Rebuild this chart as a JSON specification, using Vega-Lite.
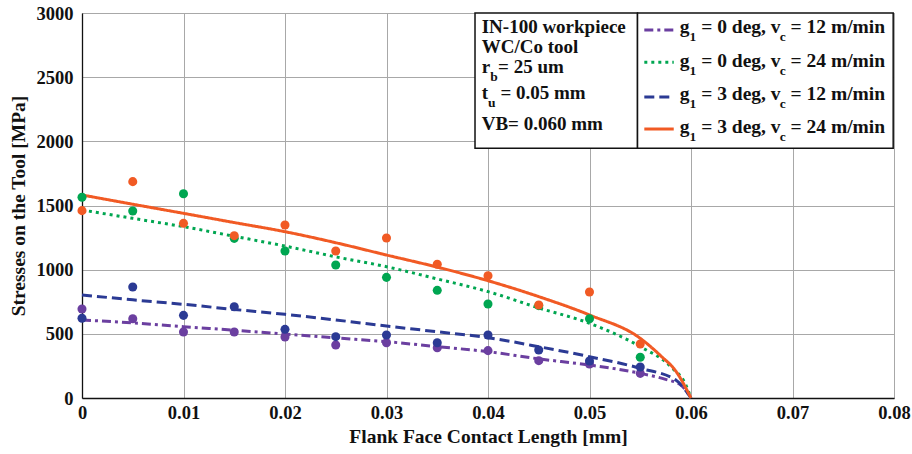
{
  "$schema": "https://vega.github.io/schema/vega-lite/v6.json",
  "width": 812,
  "height": 385,
  "autosize": {"type": "none"},
  "padding": {"left": 82, "top": 13, "right": 18, "bottom": 56},
  "background": "white",
  "config": {
    "view": {"stroke": "#9a9a9a", "strokeWidth": 1},
    "axis": {
      "labelFont": "Liberation Serif",
      "labelFontWeight": "bold",
      "labelFontSize": 18.5,
      "labelColor": "#111111",
      "labelFlush": false,
      "labelOverlap": false,
      "titleFont": "Liberation Serif",
      "titleFontWeight": "bold",
      "titleFontSize": 19.5,
      "titleColor": "#111111",
      "gridColor": "#a8a8a8",
      "gridWidth": 1,
      "domainColor": "#111111",
      "domainWidth": 1.3,
      "ticks": false
    },
    "text": {
      "font": "Liberation Serif",
      "fontWeight": "bold",
      "fontSize": 19,
      "align": "left",
      "baseline": "alphabetic",
      "color": "#111111"
    }
  },
  "datasets": {
    "model": [
      {"case": "g1 = 0 deg, vc = 12 m/min", "length": 0, "stress": 608},
      {"case": "g1 = 0 deg, vc = 12 m/min", "length": 0.005, "stress": 585},
      {"case": "g1 = 0 deg, vc = 12 m/min", "length": 0.01, "stress": 556},
      {"case": "g1 = 0 deg, vc = 12 m/min", "length": 0.015, "stress": 528},
      {"case": "g1 = 0 deg, vc = 12 m/min", "length": 0.02, "stress": 499},
      {"case": "g1 = 0 deg, vc = 12 m/min", "length": 0.025, "stress": 468},
      {"case": "g1 = 0 deg, vc = 12 m/min", "length": 0.03, "stress": 439},
      {"case": "g1 = 0 deg, vc = 12 m/min", "length": 0.035, "stress": 400},
      {"case": "g1 = 0 deg, vc = 12 m/min", "length": 0.04, "stress": 361},
      {"case": "g1 = 0 deg, vc = 12 m/min", "length": 0.045, "stress": 305},
      {"case": "g1 = 0 deg, vc = 12 m/min", "length": 0.05, "stress": 257},
      {"case": "g1 = 0 deg, vc = 12 m/min", "length": 0.055, "stress": 192},
      {"case": "g1 = 0 deg, vc = 12 m/min", "length": 0.0575, "stress": 145},
      {"case": "g1 = 0 deg, vc = 12 m/min", "length": 0.059, "stress": 101},
      {"case": "g1 = 0 deg, vc = 12 m/min", "length": 0.06, "stress": 0},
      {"case": "g1 = 0 deg, vc = 24 m/min", "length": 0, "stress": 1465},
      {"case": "g1 = 0 deg, vc = 24 m/min", "length": 0.005, "stress": 1400},
      {"case": "g1 = 0 deg, vc = 24 m/min", "length": 0.01, "stress": 1335},
      {"case": "g1 = 0 deg, vc = 24 m/min", "length": 0.015, "stress": 1260},
      {"case": "g1 = 0 deg, vc = 24 m/min", "length": 0.02, "stress": 1184},
      {"case": "g1 = 0 deg, vc = 24 m/min", "length": 0.025, "stress": 1100},
      {"case": "g1 = 0 deg, vc = 24 m/min", "length": 0.03, "stress": 1023},
      {"case": "g1 = 0 deg, vc = 24 m/min", "length": 0.035, "stress": 928},
      {"case": "g1 = 0 deg, vc = 24 m/min", "length": 0.04, "stress": 829},
      {"case": "g1 = 0 deg, vc = 24 m/min", "length": 0.045, "stress": 702},
      {"case": "g1 = 0 deg, vc = 24 m/min", "length": 0.05, "stress": 582},
      {"case": "g1 = 0 deg, vc = 24 m/min", "length": 0.055, "stress": 400},
      {"case": "g1 = 0 deg, vc = 24 m/min", "length": 0.058, "stress": 244},
      {"case": "g1 = 0 deg, vc = 24 m/min", "length": 0.0595, "stress": 100},
      {"case": "g1 = 0 deg, vc = 24 m/min", "length": 0.06, "stress": 0},
      {"case": "g1 = 3 deg, vc = 12 m/min", "length": 0, "stress": 803},
      {"case": "g1 = 3 deg, vc = 12 m/min", "length": 0.005, "stress": 765},
      {"case": "g1 = 3 deg, vc = 12 m/min", "length": 0.01, "stress": 730},
      {"case": "g1 = 3 deg, vc = 12 m/min", "length": 0.015, "stress": 690},
      {"case": "g1 = 3 deg, vc = 12 m/min", "length": 0.02, "stress": 652},
      {"case": "g1 = 3 deg, vc = 12 m/min", "length": 0.025, "stress": 608},
      {"case": "g1 = 3 deg, vc = 12 m/min", "length": 0.03, "stress": 561},
      {"case": "g1 = 3 deg, vc = 12 m/min", "length": 0.035, "stress": 516},
      {"case": "g1 = 3 deg, vc = 12 m/min", "length": 0.04, "stress": 470},
      {"case": "g1 = 3 deg, vc = 12 m/min", "length": 0.045, "stress": 400},
      {"case": "g1 = 3 deg, vc = 12 m/min", "length": 0.05, "stress": 322},
      {"case": "g1 = 3 deg, vc = 12 m/min", "length": 0.055, "stress": 231},
      {"case": "g1 = 3 deg, vc = 12 m/min", "length": 0.0585, "stress": 140},
      {"case": "g1 = 3 deg, vc = 12 m/min", "length": 0.06, "stress": 0},
      {"case": "g1 = 3 deg, vc = 24 m/min", "length": 0, "stress": 1582},
      {"case": "g1 = 3 deg, vc = 24 m/min", "length": 0.005, "stress": 1510},
      {"case": "g1 = 3 deg, vc = 24 m/min", "length": 0.01, "stress": 1439},
      {"case": "g1 = 3 deg, vc = 24 m/min", "length": 0.015, "stress": 1367},
      {"case": "g1 = 3 deg, vc = 24 m/min", "length": 0.02, "stress": 1296},
      {"case": "g1 = 3 deg, vc = 24 m/min", "length": 0.025, "stress": 1210},
      {"case": "g1 = 3 deg, vc = 24 m/min", "length": 0.03, "stress": 1114},
      {"case": "g1 = 3 deg, vc = 24 m/min", "length": 0.035, "stress": 1020},
      {"case": "g1 = 3 deg, vc = 24 m/min", "length": 0.04, "stress": 914},
      {"case": "g1 = 3 deg, vc = 24 m/min", "length": 0.045, "stress": 790},
      {"case": "g1 = 3 deg, vc = 24 m/min", "length": 0.05, "stress": 647},
      {"case": "g1 = 3 deg, vc = 24 m/min", "length": 0.055, "stress": 465},
      {"case": "g1 = 3 deg, vc = 24 m/min", "length": 0.057, "stress": 330},
      {"case": "g1 = 3 deg, vc = 24 m/min", "length": 0.0585, "stress": 210},
      {"case": "g1 = 3 deg, vc = 24 m/min", "length": 0.06, "stress": 0}
    ],
    "measured": [
      {"case": "g1 = 0 deg, vc = 12 m/min", "length": 0, "stress": 693},
      {"case": "g1 = 0 deg, vc = 12 m/min", "length": 0.005, "stress": 618},
      {"case": "g1 = 0 deg, vc = 12 m/min", "length": 0.01, "stress": 514},
      {"case": "g1 = 0 deg, vc = 12 m/min", "length": 0.015, "stress": 514},
      {"case": "g1 = 0 deg, vc = 12 m/min", "length": 0.02, "stress": 475},
      {"case": "g1 = 0 deg, vc = 12 m/min", "length": 0.025, "stress": 413},
      {"case": "g1 = 0 deg, vc = 12 m/min", "length": 0.03, "stress": 431},
      {"case": "g1 = 0 deg, vc = 12 m/min", "length": 0.035, "stress": 392},
      {"case": "g1 = 0 deg, vc = 12 m/min", "length": 0.04, "stress": 369},
      {"case": "g1 = 0 deg, vc = 12 m/min", "length": 0.045, "stress": 291},
      {"case": "g1 = 0 deg, vc = 12 m/min", "length": 0.05, "stress": 265},
      {"case": "g1 = 0 deg, vc = 12 m/min", "length": 0.055, "stress": 192},
      {"case": "g1 = 3 deg, vc = 12 m/min", "length": 0, "stress": 621},
      {"case": "g1 = 3 deg, vc = 12 m/min", "length": 0.005, "stress": 865},
      {"case": "g1 = 3 deg, vc = 12 m/min", "length": 0.01, "stress": 644},
      {"case": "g1 = 3 deg, vc = 12 m/min", "length": 0.015, "stress": 711},
      {"case": "g1 = 3 deg, vc = 12 m/min", "length": 0.02, "stress": 535},
      {"case": "g1 = 3 deg, vc = 12 m/min", "length": 0.025, "stress": 478},
      {"case": "g1 = 3 deg, vc = 12 m/min", "length": 0.03, "stress": 491},
      {"case": "g1 = 3 deg, vc = 12 m/min", "length": 0.035, "stress": 431},
      {"case": "g1 = 3 deg, vc = 12 m/min", "length": 0.04, "stress": 491},
      {"case": "g1 = 3 deg, vc = 12 m/min", "length": 0.045, "stress": 374},
      {"case": "g1 = 3 deg, vc = 12 m/min", "length": 0.05, "stress": 288},
      {"case": "g1 = 3 deg, vc = 12 m/min", "length": 0.055, "stress": 242},
      {"case": "g1 = 0 deg, vc = 24 m/min", "length": 0, "stress": 1564},
      {"case": "g1 = 0 deg, vc = 24 m/min", "length": 0.005, "stress": 1457},
      {"case": "g1 = 0 deg, vc = 24 m/min", "length": 0.01, "stress": 1592},
      {"case": "g1 = 0 deg, vc = 24 m/min", "length": 0.015, "stress": 1244},
      {"case": "g1 = 0 deg, vc = 24 m/min", "length": 0.02, "stress": 1146},
      {"case": "g1 = 0 deg, vc = 24 m/min", "length": 0.025, "stress": 1036},
      {"case": "g1 = 0 deg, vc = 24 m/min", "length": 0.03, "stress": 940},
      {"case": "g1 = 0 deg, vc = 24 m/min", "length": 0.035, "stress": 839},
      {"case": "g1 = 0 deg, vc = 24 m/min", "length": 0.04, "stress": 732},
      {"case": "g1 = 0 deg, vc = 24 m/min", "length": 0.045, "stress": 720},
      {"case": "g1 = 0 deg, vc = 24 m/min", "length": 0.05, "stress": 618},
      {"case": "g1 = 0 deg, vc = 24 m/min", "length": 0.055, "stress": 317},
      {"case": "g1 = 3 deg, vc = 24 m/min", "length": 0, "stress": 1460},
      {"case": "g1 = 3 deg, vc = 24 m/min", "length": 0.005, "stress": 1686},
      {"case": "g1 = 3 deg, vc = 24 m/min", "length": 0.01, "stress": 1361},
      {"case": "g1 = 3 deg, vc = 24 m/min", "length": 0.015, "stress": 1265},
      {"case": "g1 = 3 deg, vc = 24 m/min", "length": 0.02, "stress": 1348},
      {"case": "g1 = 3 deg, vc = 24 m/min", "length": 0.025, "stress": 1146},
      {"case": "g1 = 3 deg, vc = 24 m/min", "length": 0.03, "stress": 1247},
      {"case": "g1 = 3 deg, vc = 24 m/min", "length": 0.035, "stress": 1042},
      {"case": "g1 = 3 deg, vc = 24 m/min", "length": 0.04, "stress": 953},
      {"case": "g1 = 3 deg, vc = 24 m/min", "length": 0.045, "stress": 725},
      {"case": "g1 = 3 deg, vc = 24 m/min", "length": 0.05, "stress": 826},
      {"case": "g1 = 3 deg, vc = 24 m/min", "length": 0.055, "stress": 421}
    ]
  },
  "encoding": {
    "x": {
      "type": "quantitative",
      "scale": {"domain": [0, 0.08], "nice": false, "zero": false},
      "axis": {
        "title": "Flank Face Contact Length [mm]",
        "values": [0, 0.01, 0.02, 0.03, 0.04, 0.05, 0.06, 0.07, 0.08],
        "format": ".2~f",
        "labelPadding": 5,
        "titlePadding": 6,
        "grid": true
      }
    },
    "y": {
      "type": "quantitative",
      "scale": {"domain": [0, 3000], "nice": false},
      "axis": {
        "title": "Stresses on the Tool [MPa]",
        "values": [0, 500, 1000, 1500, 2000, 2500, 3000],
        "format": "d",
        "labelPadding": 9,
        "titlePadding": 8,
        "grid": true
      }
    }
  },
  "layer": [
    {
      "data": {"name": "model"},
      "mark": {"type": "line", "strokeWidth": 3, "interpolate": "monotone"},
      "encoding": {
        "x": {"field": "length", "type": "quantitative"},
        "y": {"field": "stress", "type": "quantitative"},
        "order": {"field": "length"},
        "color": {
          "field": "case",
          "type": "nominal",
          "legend": null,
          "scale": {
            "domain": ["g1 = 0 deg, vc = 12 m/min", "g1 = 0 deg, vc = 24 m/min", "g1 = 3 deg, vc = 12 m/min", "g1 = 3 deg, vc = 24 m/min"],
            "range": ["#6b3fa0", "#00a651", "#2b3a94", "#f15a24"]
          }
        },
        "strokeDash": {
          "field": "case",
          "type": "nominal",
          "legend": null,
          "scale": {
            "domain": ["g1 = 0 deg, vc = 12 m/min", "g1 = 0 deg, vc = 24 m/min", "g1 = 3 deg, vc = 12 m/min", "g1 = 3 deg, vc = 24 m/min"],
            "range": [[9, 4, 3, 4], [3, 4], [10, 5], [1, 0]]
          }
        }
      }
    },
    {
      "data": {"name": "measured"},
      "mark": {"type": "circle", "size": 82, "opacity": 1},
      "encoding": {
        "x": {"field": "length", "type": "quantitative"},
        "y": {"field": "stress", "type": "quantitative"},
        "color": {"field": "case", "type": "nominal", "legend": null}
      }
    },
    {
      "data": {"values": [{}]},
      "mark": {"type": "rect", "fill": "white", "stroke": "#111111", "strokeWidth": 1.5},
      "encoding": {"x": {"datum": 0.03872}, "x2": {"datum": 0.05473}, "y": {"datum": 3000}, "y2": {"datum": 1946}}
    },
    {
      "data": {"values": [{}]},
      "mark": {"type": "rect", "fill": "white", "stroke": "#111111", "strokeWidth": 1.5},
      "encoding": {"x": {"datum": 0.05473}, "x2": {"datum": 0.07992}, "y": {"datum": 3000}, "y2": {"datum": 1946}}
    },
    {"data": {"values": [{}]}, "mark": {"type": "text", "text": "IN-100 workpiece"}, "encoding": {"x": {"datum": 0.03938}, "y": {"datum": 2845}}},
    {"data": {"values": [{}]}, "mark": {"type": "text", "text": "WC/Co tool"}, "encoding": {"x": {"datum": 0.03938}, "y": {"datum": 2686}}},
    {"data": {"values": [{}]}, "mark": {"type": "text", "text": "r"}, "encoding": {"x": {"datum": 0.03938}, "y": {"datum": 2530}}},
    {"data": {"values": [{}]}, "mark": {"type": "text", "text": "b", "fontSize": 13.5, "dx": 8.5, "dy": 8}, "encoding": {"x": {"datum": 0.03938}, "y": {"datum": 2530}}},
    {"data": {"values": [{}]}, "mark": {"type": "text", "text": "= 25 um", "dx": 16.4}, "encoding": {"x": {"datum": 0.03938}, "y": {"datum": 2530}}},
    {"data": {"values": [{}]}, "mark": {"type": "text", "text": "t"}, "encoding": {"x": {"datum": 0.03938}, "y": {"datum": 2327}}},
    {"data": {"values": [{}]}, "mark": {"type": "text", "text": "u", "fontSize": 13.5, "dx": 6.4, "dy": 8}, "encoding": {"x": {"datum": 0.03938}, "y": {"datum": 2327}}},
    {"data": {"values": [{}]}, "mark": {"type": "text", "text": "= 0.05 mm", "dx": 18.7}, "encoding": {"x": {"datum": 0.03938}, "y": {"datum": 2327}}},
    {"data": {"values": [{}]}, "mark": {"type": "text", "text": "VB= 0.060 mm"}, "encoding": {"x": {"datum": 0.03938}, "y": {"datum": 2088}}},

    {"data": {"values": [{}]}, "mark": {"type": "rule", "color": "#6b3fa0", "strokeWidth": 3, "strokeDash": [9, 4, 3, 4]}, "encoding": {"x": {"datum": 0.0554}, "x2": {"datum": 0.0583}, "y": {"datum": 2868}}},
    {"data": {"values": [{}]}, "mark": {"type": "rule", "color": "#00a651", "strokeWidth": 3, "strokeDash": [3, 4]}, "encoding": {"x": {"datum": 0.0554}, "x2": {"datum": 0.0583}, "y": {"datum": 2616}}},
    {"data": {"values": [{}]}, "mark": {"type": "rule", "color": "#2b3a94", "strokeWidth": 3, "strokeDash": [10, 5]}, "encoding": {"x": {"datum": 0.0554}, "x2": {"datum": 0.0583}, "y": {"datum": 2346}}},
    {"data": {"values": [{}]}, "mark": {"type": "rule", "color": "#f15a24", "strokeWidth": 3}, "encoding": {"x": {"datum": 0.0554}, "x2": {"datum": 0.0583}, "y": {"datum": 2096}}},

    {"data": {"values": [{}]}, "mark": {"type": "text", "text": "g", "fontSize": 19.5}, "encoding": {"x": {"datum": 0.0589}, "y": {"datum": 2842}}},
    {"data": {"values": [{}]}, "mark": {"type": "text", "text": "1", "fontSize": 13.5, "dx": 9.75, "dy": 8}, "encoding": {"x": {"datum": 0.0589}, "y": {"datum": 2842}}},
    {"data": {"values": [{}]}, "mark": {"type": "text", "text": "= 0 deg, v", "fontSize": 19.5, "dx": 21.4}, "encoding": {"x": {"datum": 0.0589}, "y": {"datum": 2842}}},
    {"data": {"values": [{}]}, "mark": {"type": "text", "text": "c", "fontSize": 13.5, "dx": 99.8, "dy": 8}, "encoding": {"x": {"datum": 0.0589}, "y": {"datum": 2842}}},
    {"data": {"values": [{}]}, "mark": {"type": "text", "text": "= 12 m/min", "fontSize": 19.5, "dx": 110.7}, "encoding": {"x": {"datum": 0.0589}, "y": {"datum": 2842}}},

    {"data": {"values": [{}]}, "mark": {"type": "text", "text": "g", "fontSize": 19.5}, "encoding": {"x": {"datum": 0.0589}, "y": {"datum": 2582}}},
    {"data": {"values": [{}]}, "mark": {"type": "text", "text": "1", "fontSize": 13.5, "dx": 9.75, "dy": 8}, "encoding": {"x": {"datum": 0.0589}, "y": {"datum": 2582}}},
    {"data": {"values": [{}]}, "mark": {"type": "text", "text": "= 0 deg, v", "fontSize": 19.5, "dx": 21.4}, "encoding": {"x": {"datum": 0.0589}, "y": {"datum": 2582}}},
    {"data": {"values": [{}]}, "mark": {"type": "text", "text": "c", "fontSize": 13.5, "dx": 99.8, "dy": 8}, "encoding": {"x": {"datum": 0.0589}, "y": {"datum": 2582}}},
    {"data": {"values": [{}]}, "mark": {"type": "text", "text": "= 24 m/min", "fontSize": 19.5, "dx": 110.7}, "encoding": {"x": {"datum": 0.0589}, "y": {"datum": 2582}}},

    {"data": {"values": [{}]}, "mark": {"type": "text", "text": "g", "fontSize": 19.5}, "encoding": {"x": {"datum": 0.0589}, "y": {"datum": 2322}}},
    {"data": {"values": [{}]}, "mark": {"type": "text", "text": "1", "fontSize": 13.5, "dx": 9.75, "dy": 8}, "encoding": {"x": {"datum": 0.0589}, "y": {"datum": 2322}}},
    {"data": {"values": [{}]}, "mark": {"type": "text", "text": "= 3 deg, v", "fontSize": 19.5, "dx": 21.4}, "encoding": {"x": {"datum": 0.0589}, "y": {"datum": 2322}}},
    {"data": {"values": [{}]}, "mark": {"type": "text", "text": "c", "fontSize": 13.5, "dx": 99.8, "dy": 8}, "encoding": {"x": {"datum": 0.0589}, "y": {"datum": 2322}}},
    {"data": {"values": [{}]}, "mark": {"type": "text", "text": "= 12 m/min", "fontSize": 19.5, "dx": 110.7}, "encoding": {"x": {"datum": 0.0589}, "y": {"datum": 2322}}},

    {"data": {"values": [{}]}, "mark": {"type": "text", "text": "g", "fontSize": 19.5}, "encoding": {"x": {"datum": 0.0589}, "y": {"datum": 2063}}},
    {"data": {"values": [{}]}, "mark": {"type": "text", "text": "1", "fontSize": 13.5, "dx": 9.75, "dy": 8}, "encoding": {"x": {"datum": 0.0589}, "y": {"datum": 2063}}},
    {"data": {"values": [{}]}, "mark": {"type": "text", "text": "= 3 deg, v", "fontSize": 19.5, "dx": 21.4}, "encoding": {"x": {"datum": 0.0589}, "y": {"datum": 2063}}},
    {"data": {"values": [{}]}, "mark": {"type": "text", "text": "c", "fontSize": 13.5, "dx": 99.8, "dy": 8}, "encoding": {"x": {"datum": 0.0589}, "y": {"datum": 2063}}},
    {"data": {"values": [{}]}, "mark": {"type": "text", "text": "= 24 m/min", "fontSize": 19.5, "dx": 110.7}, "encoding": {"x": {"datum": 0.0589}, "y": {"datum": 2063}}}
  ]
}
